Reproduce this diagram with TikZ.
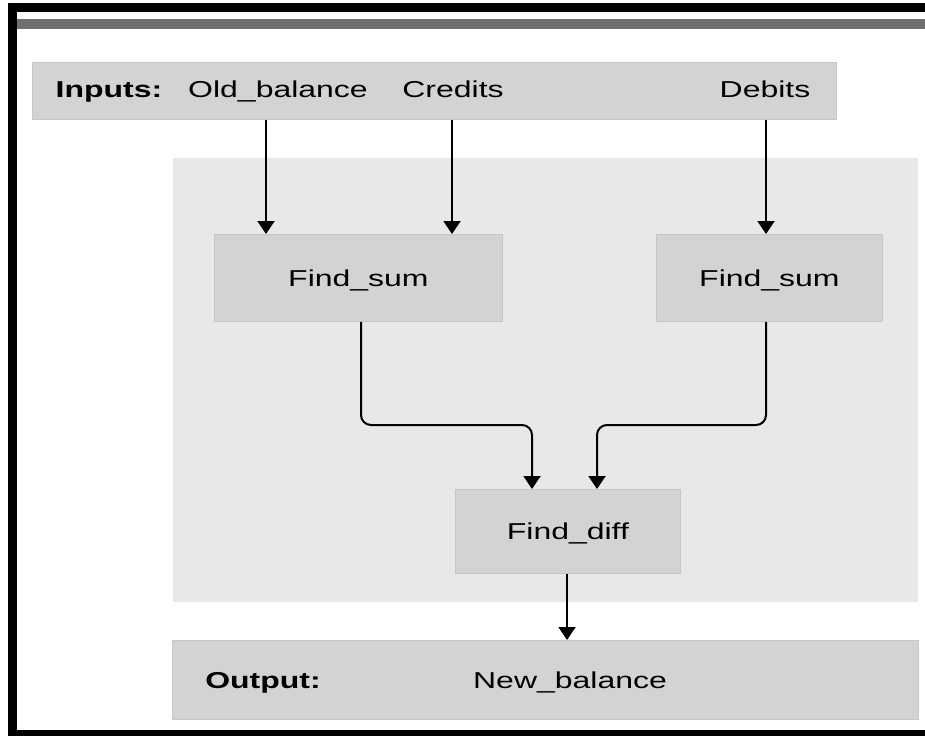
\documentclass[tikz,border=0pt]{standalone}
\usepackage{fontspec}
\setmainfont{Liberation Sans}[FakeStretch=1.39]
\usetikzlibrary{arrows.meta}
\definecolor{boxgray}{HTML}{D3D3D3}
\definecolor{regiongray}{HTML}{E8E8E8}
\definecolor{stripgray}{HTML}{707070}
\definecolor{edgegray}{HTML}{C6C6C6}
\begin{document}
\begin{tikzpicture}[x=1pt,y=-1pt,
  box/.style={draw=edgegray, line width=0.8pt, fill=boxgray, inner sep=0pt, anchor=north west,
    text height=16.5pt, text depth=0pt, font=\fontsize{23}{27}\selectfont},
  lbl/.style={anchor=base, inner sep=0pt, font=\fontsize{23}{27}\selectfont},
  blbl/.style={anchor=base, inner sep=0pt, font=\fontsize{23}{27}\selectfont\bfseries},
  arr/.style={line width=2pt, -{Triangle[width=17pt,length=13pt]}, rounded corners=10pt}]
\useasboundingbox (0,0) rectangle (925,736);
% frame
\fill[black] (8,3) rectangle (925,12);
\fill[black] (8,3) rectangle (17,736);
\fill[black] (8,730) rectangle (925,736);
\fill[stripgray] (17,19) rectangle (925,29);
% region
\node[fill=regiongray, inner sep=0pt, anchor=north west, minimum width=745pt, minimum height=444pt] (reg) at (173,158) {};
% boxes
\node[box, minimum width=804pt, minimum height=57pt] (inp) at (32,62) {};
\node[box, minimum width=288pt, minimum height=87pt] (fs1) at (214,234) {Find\_sum};
\node[box, minimum width=226pt, minimum height=87pt] (fs2) at (656,234) {Find\_sum};
\node[box, minimum width=225pt, minimum height=84pt] (fd) at (455,489) {Find\_diff};
\node[box, minimum width=746pt, minimum height=79pt] (out) at (172,640) {};
% labels
\node[blbl] (lin) at (109,97) {Inputs:};
\node[lbl] (lob) at (278,97) {Old\_balance};
\node[lbl] (lcr) at (453,97) {Credits};
\node[lbl] (lde) at (765,97) {Debits};
\node[blbl] (lout) at (263,688) {Output:};
\node[lbl] (lnb) at (570,688) {New\_balance};
% coordinates
\coordinate (xob) at (266,0);
\coordinate (xcr) at (452,0);
\coordinate (cA) at (361,425);
\coordinate (cB) at (532,425);
\coordinate (cC) at (766,425);
\coordinate (cD) at (597,425);
\coordinate (cE) at (567,0);
% arrows
\draw[arr] (inp.south -| xob) -- (fs1.north -| xob);
\draw[arr] (inp.south -| xcr) -- (fs1.north -| xcr);
\draw[arr] (inp.south -| cC) -- (fs2.north -| cC);
\draw[arr] (fs1.south -| cA) -- (cA) -- (cB) -- (fd.north -| cB);
\draw[arr] (fs2.south -| cC) -- (cC) -- (cD) -- (fd.north -| cD);
\draw[arr] (fd.south -| cE) -- (out.north -| cE);
\end{tikzpicture}
\end{document}
